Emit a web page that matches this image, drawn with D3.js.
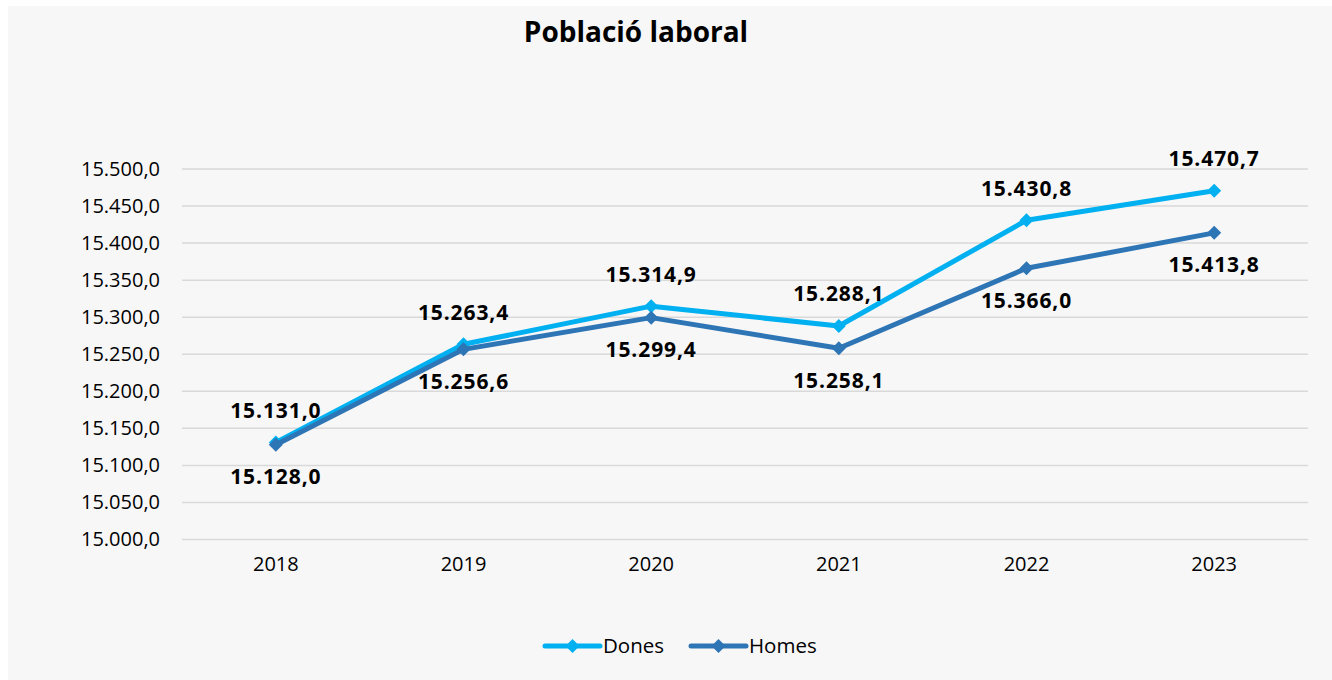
<!DOCTYPE html>
<html>
<head>
<meta charset="utf-8">
<script src="https://cdn.jsdelivr.net/npm/d3@7"></script>
<style>
  body { margin: 0; background: #ffffff; }
  svg { display: block; font-family: "Open Sans", sans-serif; }
</style>
</head>
<body>
<div id="chart"></div>
<script>
const years = ["2018", "2019", "2020", "2021", "2022", "2023"];
const dones = [15131.0, 15263.4, 15314.9, 15288.1, 15430.8, 15470.7];
const homes = [15128.0, 15256.6, 15299.4, 15258.1, 15366.0, 15413.8];
const yTicks = [15000, 15050, 15100, 15150, 15200, 15250, 15300, 15350, 15400, 15450, 15500];
const seriesNames = ["Dones", "Homes"];

const width = 1332, height = 680;
const colors = { Dones: "#00b0f0", Homes: "#2e75b6" };

const svg = d3.select("#chart").append("svg")
    .attr("width", width)
    .attr("height", height);

// chart area background
svg.append("rect")
    .attr("x", 8).attr("y", 6)
    .attr("width", width - 8).attr("height", height - 6)
    .attr("fill", "#f7f7f7");

svg.append("text")
    .attr("x", 636).attr("y", 42)
    .attr("text-anchor", "middle")
    .style("font-size", "28px")
    .style("font-weight", "bold")
    .attr("fill", "#000")
    .text("Població laboral");

const xScale = d3.scaleBand().domain(years).range([182, 1308]);
const yScale = d3.scaleLinear().domain([15000, 15500]).range([539.5, 169]);
const fmt = d3.formatLocale({ decimal: ",", thousands: ".", grouping: [3] }).format(",.1f");

// gridlines
svg.append("g")
    .selectAll("line")
    .data(yTicks)
    .enter()
    .append("line")
    .attr("x1", 182).attr("x2", 1308)
    .attr("y1", d => yScale(d)).attr("y2", d => yScale(d))
    .attr("stroke", "#d9d9d9")
    .attr("stroke-width", 1.5);

// y axis labels
const yAxis = svg.append("g")
    .attr("transform", "translate(182,0)")
    .call(d3.axisLeft(yScale).tickValues(yTicks).tickFormat(fmt).tickSize(0).tickPadding(22));
yAxis.select(".domain").remove();
yAxis.selectAll("text")
    .style("font-size", "20px")
    .style("font-family", "Open Sans, sans-serif")
    .attr("fill", "#000");

// x axis labels
const xAxis = svg.append("g")
    .attr("transform", "translate(0,539.5)")
    .call(d3.axisBottom(xScale).tickSize(0).tickPadding(17));
xAxis.select(".domain").remove();
xAxis.selectAll("text")
    .style("font-size", "20px")
    .style("font-family", "Open Sans, sans-serif")
    .attr("fill", "#000");

const xPos = d => xScale(d) + xScale.bandwidth() / 2;
const diamond = r => `M0,${-r}L${r},0L0,${r}L${-r},0Z`;

const series = [
    { name: "Dones", values: dones, dy: -32 },
    { name: "Homes", values: homes, dy: 32 }
];

const line = d3.line()
    .x(d => xPos(d.year))
    .y(d => yScale(d.value));

series.forEach(s => {
    const pts = years.map((y, i) => ({ year: y, value: s.values[i] }));
    const g = svg.append("g");
    g.append("path")
        .datum(pts)
        .attr("d", line)
        .attr("fill", "none")
        .attr("stroke", colors[s.name])
        .attr("stroke-width", 5)
        .attr("stroke-linejoin", "round")
        .attr("stroke-linecap", "round");
    g.selectAll("path.marker")
        .data(pts)
        .enter()
        .append("path")
        .attr("class", "marker")
        .attr("d", diamond(7))
        .attr("transform", d => `translate(${xPos(d.year)},${yScale(d.value)})`)
        .attr("fill", colors[s.name]);
    s.pts = pts;
});

// data labels on top
series.forEach(s => {
    svg.append("g")
        .selectAll("text")
        .data(s.pts)
        .enter()
        .append("text")
        .attr("x", d => xPos(d.year))
        .attr("y", d => yScale(d.value) + s.dy)
        .attr("dy", "0.35em")
        .attr("text-anchor", "middle")
        .style("font-size", "21px")
        .style("font-weight", "bold")
        .style("letter-spacing", "0.9px")
        .attr("fill", "#000")
        .text(d => fmt(d.value));
});

// legend
const legendItems = [
    { name: "Dones", x: 545 },
    { name: "Homes", x: 691 }
];
const legend = svg.append("g").attr("transform", "translate(0,646)");
legendItems.forEach(item => {
    legend.append("line")
        .attr("x1", item.x).attr("x2", item.x + 55)
        .attr("y1", 0).attr("y2", 0)
        .attr("stroke", colors[item.name])
        .attr("stroke-width", 5)
        .attr("stroke-linecap", "round");
    legend.append("path")
        .attr("d", diamond(7))
        .attr("transform", `translate(${item.x + 27.5},0)`)
        .attr("fill", colors[item.name]);
    legend.append("text")
        .attr("x", item.x + 58)
        .attr("y", 0)
        .attr("dy", "0.35em")
        .style("font-size", "20.5px")
        .attr("fill", "#000")
        .text(item.name);
});
</script>
</body>
</html>
